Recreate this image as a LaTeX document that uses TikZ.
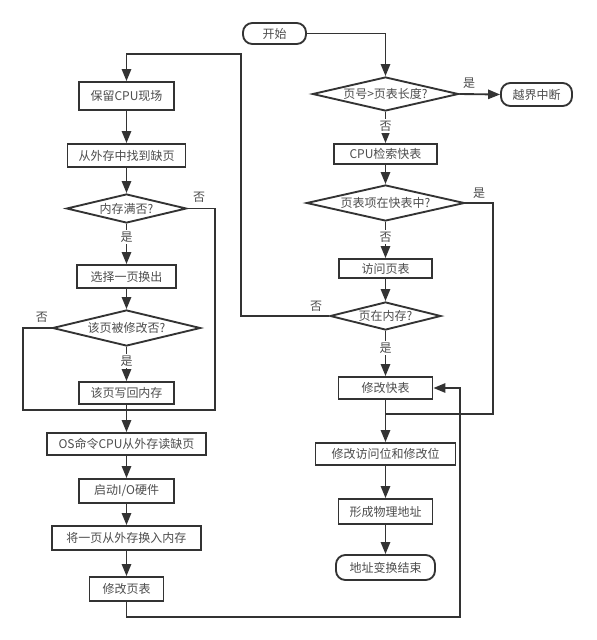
\documentclass[tikz,border=0pt]{standalone}
\usepackage{fontspec}
\setmainfont{Noto Sans CJK SC}
\usetikzlibrary{shapes.geometric,arrows.meta}
\definecolor{linec}{HTML}{333333}
\definecolor{textc}{HTML}{4D4D4D}
\tikzset{
  every node/.style={font=\fontsize{9}{11}\selectfont, text=textc},
  procbox/.style n args={2}{draw=linec, line width=1.4pt, rectangle, inner sep=0pt,
     minimum width=#1*0.75pt, minimum height=#2*0.75pt, fill=white},
  termbox/.style n args={2}{procbox={#1}{#2}, rounded corners=7pt},
  decbox/.style n args={2}{draw=linec, line width=1.4pt, diamond, inner sep=0pt,
     minimum width=#1*0.75pt, minimum height=#2*0.75pt, fill=white},
  conn/.style={draw=linec, line width=1.4pt},
  arr/.style={conn, -{Triangle[length=9pt,width=7pt]}},
  lbl/.style={fill=white, inner sep=1pt}
}
\begin{document}
\begin{tikzpicture}[x=0.75pt,y=-0.75pt]
\useasboundingbox (0,0) rectangle (597,640);

% left column
\node[procbox={95}{28}] (a1) at (126.5,96) {保留CPU现场};
\node[procbox={118}{23}] (a2) at (126.5,155.5) {从外存中找到缺页};
\node[decbox={120}{29}] (a3) at (126.5,208.5) {\makebox[0pt]{内存满否?}};
\node[procbox={99}{23}] (a4) at (126.5,276.5) {选择一页换出};
\node[decbox={148}{36}] (a5) at (126.5,328) {\makebox[0pt]{该页被修改否?}};
\node[procbox={95}{22}] (a6) at (126.5,393) {该页写回内存};
\node[procbox={159}{22}] (a7) at (126.5,444) {OS命令CPU从外存读缺页};
\node[procbox={95}{24}] (a8) at (126.5,491) {启动I/O硬件};
\node[procbox={149}{24}] (a9) at (126.5,538) {将一页从外存换入内存};
\node[procbox={74}{24}] (a10) at (126.5,589) {修改页表};

% right column
\node[termbox={63}{21}] (b0) at (274.5,33.5) {开始};
\node[decbox={146}{34}] (b1) at (385.5,94) {\makebox[0pt]{页号>页表长度?}};
\node[termbox={71}{23}] (b2) at (536.5,94.5) {越界中断};
\node[procbox={103}{20}] (b3) at (385.5,154) {CPU检索快表};
\node[decbox={158}{36}] (b4) at (385.5,203) {\makebox[0pt]{页表项在快表中?}};
\node[procbox={93}{19}] (b5) at (385.5,268.5) {访问页表};
\node[decbox={111}{28}] (b6) at (385.5,316) {\makebox[0pt]{页在内存?}};
\node[procbox={94}{22}] (b7) at (385.5,388) {修改快表};
\node[procbox={140}{22}] (b8) at (385.5,454) {修改访问位和修改位};
\node[procbox={94}{25}] (b9) at (385.5,511.5) {形成物理地址};
\node[termbox={99}{25}] (b10) at (385.5,567.5) {地址变换结束};

% bend / join coordinates
\coordinate (c0) at (385.5,33.5);
\coordinate (c1) at (493,203);
\coordinate (c2) at (493,414);
\coordinate (j2) at (385.5,414);
\coordinate (c3) at (241,316);
\coordinate (c4) at (241,54);
\coordinate (c5) at (126.5,54);
\coordinate (c6) at (215,208.5);
\coordinate (c7) at (215,410);
\coordinate (j1) at (126.5,410);
\coordinate (c8) at (23,328);
\coordinate (c9) at (23,410);
\coordinate (c10) at (126.5,617);
\coordinate (c11) at (460,617);
\coordinate (c12) at (460,388);

% right connectors
\draw[arr] (b0.east) -- (c0) -- (b1.north);
\draw[arr] (b1.east) -- (b2.west);
\draw[arr] (b1.south) -- (b3.north);
\draw[arr] (b3.south) -- (b4.north);
\draw[conn] (b4.east) -- (c1) -- (c2) -- (j2);
\draw[arr] (b4.south) -- (b5.north);
\draw[arr] (b5.south) -- (b6.north);
\draw[arr] (b6.west) -- (c3) -- (c4) -- (c5) -- (a1.north);
\draw[arr] (b6.south) -- (b7.north);
\draw[arr] (b7.south) -- (b8.north);
\draw[arr] (b8.south) -- (b9.north);
\draw[arr] (b9.south) -- (b10.north);

% left connectors
\draw[arr] (a1.south) -- (a2.north);
\draw[arr] (a2.south) -- (a3.north);
\draw[conn] (a3.east) -- (c6) -- (c7) -- (j1);
\draw[arr] (a3.south) -- (a4.north);
\draw[arr] (a4.south) -- (a5.north);
\draw[conn] (a5.west) -- (c8) -- (c9) -- (j1);
\draw[arr] (a5.south) -- (a6.north);
\draw[arr] (a6.south) -- (a7.north);
\draw[arr] (a7.south) -- (a8.north);
\draw[arr] (a8.south) -- (a9.north);
\draw[arr] (a9.south) -- (a10.north);
\draw[arr] (a10.south) -- (c10) -- (c11) -- (c12) -- (b7.east);

% labels
\node[lbl] (l1) at (469,83) {是};
\node[lbl] (l2) at (385.5,126) {否};
\node[lbl] (l3) at (479,193) {是};
\node[lbl] (l4) at (385.5,237) {否};
\node[lbl] (l5) at (316,306) {否};
\node[lbl] (l6) at (385.5,348) {是};
\node[lbl] (l7) at (199,197) {否};
\node[lbl] (l8) at (126.5,237) {是};
\node[lbl] (l9) at (42,317) {否};
\node[lbl] (l10) at (126.5,361) {是};
\end{tikzpicture}
\end{document}
